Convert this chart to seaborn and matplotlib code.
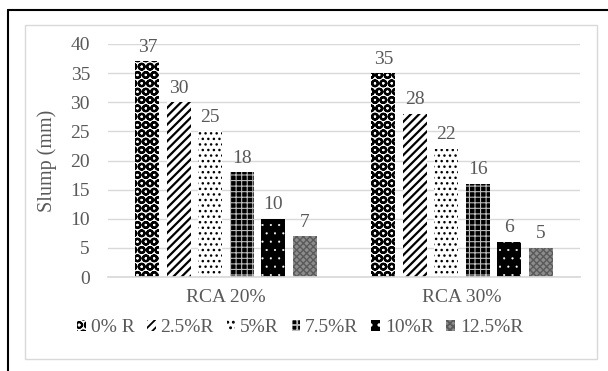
import matplotlib
matplotlib.use("Agg")
import matplotlib.pyplot as plt
from matplotlib.lines import Line2D
from matplotlib.patches import Rectangle
import seaborn as sns
import pandas as pd

# Slump test results for recycled concrete aggregate mixes
groups = ["RCA 20%", "RCA 30%"]
mixes = ["0% R", "2.5%R", "5%R", "7.5%R", "10%R", "12.5%R"]
slump_rca20 = [37, 30, 25, 18, 10, 7]
slump_rca30 = [35, 28, 22, 16, 6, 5]
y_ticks = [0, 5, 10, 15, 20, 25, 30, 35, 40]

rows = []
for g, vals in zip(groups, [slump_rca20, slump_rca30]):
    for m, v in zip(mixes, vals):
        rows.append({"group": g, "mix": m, "slump": v})
df = pd.DataFrame(rows)

sns.set_theme(style="white")
plt.rcParams["font.family"] = ["Liberation Serif", "DejaVu Serif"]
plt.rcParams["hatch.linewidth"] = 1.3

TXT = "#595959"
GRID = "#d9d9d9"
FS = 14

fig = plt.figure(figsize=(6.08, 3.71), dpi=100)
ax = fig.add_axes([108 / 608, 1 - 277 / 371, 472 / 608, (277 - 44) / 371])

sns.barplot(data=df, x="group", y="slump", hue="mix", order=groups,
            hue_order=mixes, width=0.8, gap=0.23, ax=ax, errorbar=None,
            legend=False)

# fill styles per mix: (facecolor, hatch, hatch colour, hatch width)
styles = [
    ("white", "OO", "black", 1.6),
    ("white", "////", "black", 1.6),
    ("white", "...", "black", 1.0),
    ("black", "+++", "#bbbbbb", 0.8),
    ("black", "..", "white", 0.3),
    ("#8c8c8c", "xxxxx", "#5a5a5a", 1.0),
]
for cont, (fc, hatch, hc, hlw) in zip(ax.containers, styles):
    for p in cont.patches:
        p.set_facecolor(fc)
        p.set_hatch(hatch)
        p.set_edgecolor(hc)
        p.set_linewidth(0)
        if hasattr(p, "set_hatch_linewidth"):
            p.set_hatch_linewidth(hlw)
    ax.bar_label(cont, labels=[f"{v:g}" for v in cont.datavalues],
                 padding=4, color=TXT, fontsize=FS)

ax.set_xlim(-0.5, 1.5)
ax.set_ylim(0, 40)
ax.set_yticks(y_ticks)
ax.yaxis.grid(True, color=GRID, linewidth=1)
ax.set_axisbelow(True)
for s in ["top", "right", "left"]:
    ax.spines[s].set_visible(False)
ax.spines["bottom"].set_color(GRID)
ax.tick_params(axis="both", length=0, colors=TXT, labelsize=FS)
ax.tick_params(axis="y", pad=13)
ax.tick_params(axis="x", pad=9)
ax.set_xlabel("")
ax.set_ylabel("Slump (mm)", color=TXT, fontsize=FS + 0.5)
ax.yaxis.set_label_coords((57 - 108) / 472, 0.5)

handles = [c.patches[0] for c in ax.containers]
fig.legend(handles, mixes, loc="center", bbox_to_anchor=(300 / 608, 1 - 328 / 371),
           ncol=6, frameon=False, fontsize=FS, labelcolor=TXT,
           handlelength=0.45, handleheight=0.45, handletextpad=0.25,
           columnspacing=0.65)

# chart frame and outer border
fig.add_artist(Rectangle((25 / 608, 1 - 359 / 371), 572 / 608, 334 / 371,
                         transform=fig.transFigure, fill=False,
                         edgecolor=GRID, linewidth=1))
fig.add_artist(Line2D([8 / 608, 1], [1 - 10 / 371, 1 - 10 / 371],
                      transform=fig.transFigure, color="black", linewidth=1.5))
fig.add_artist(Line2D([8 / 608, 8 / 608], [0, 1 - 10 / 371],
                      transform=fig.transFigure, color="black", linewidth=1.5))

fig.savefig("out.png", dpi=100)
